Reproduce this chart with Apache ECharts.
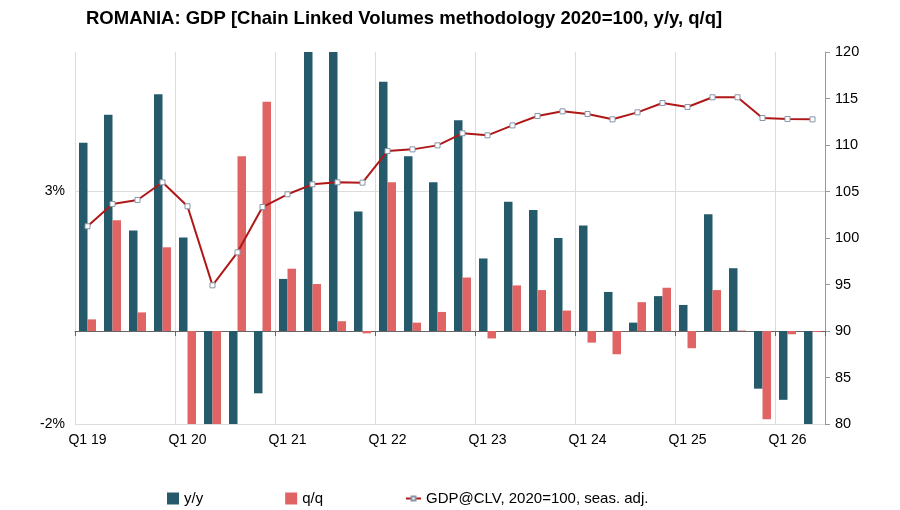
<!DOCTYPE html>
<html>
<head>
<meta charset="utf-8">
<script src="https://cdn.jsdelivr.net/npm/echarts@6/dist/echarts.min.js"></script>
<style>html,body{margin:0;padding:0;background:#fff}#c{width:900px;height:510px}</style>
</head>
<body>
<div id="c"></div>
<script>
const categories = [
  'Q1 19','Q2 19','Q3 19','Q4 19',
  'Q1 20','Q2 20','Q3 20','Q4 20',
  'Q1 21','Q2 21','Q3 21','Q4 21',
  'Q1 22','Q2 22','Q3 22','Q4 22',
  'Q1 23','Q2 23','Q3 23','Q4 23',
  'Q1 24','Q2 24','Q3 24','Q4 24',
  'Q1 25','Q2 25','Q3 25','Q4 25',
  'Q1 26','Q2 26'
];
const yoy = [
  4.05, 4.65, 2.16, 5.09,
  2.01, -10.2, -5.6, -1.34,
  1.12, 13.9, 7.9, 2.57,
  5.36, 3.76, 3.20, 4.53,
  1.56, 2.78, 2.60, 2.00,
  2.27, 0.84, 0.18, 0.75,
  0.56, 2.51, 1.35, -1.24,
  -1.48, -2.1
];
const qoq = [
  0.25, 2.38, 0.40, 1.80,
  -2.5, -10.0, 3.76, 4.93,
  1.34, 1.01, 0.21, -0.05,
  3.20, 0.18, 0.41, 1.15,
  -0.16, 0.98, 0.88, 0.44,
  -0.25, -0.50, 0.62, 0.93,
  -0.37, 0.88, 0.01, -1.90,
  -0.07, -0.02
];
const gdpClv = [
  101.26, 103.66, 104.09, 105.99,
  103.41, 94.91, 98.46, 103.33,
  104.70, 105.77, 105.99, 105.95,
  109.35, 109.53, 109.96, 111.26,
  111.04, 112.11, 113.12, 113.62,
  113.33, 112.76, 113.51, 114.52,
  114.09, 115.13, 115.13, 112.90,
  112.80, 112.76
];
const leftTicks = { min: -2, max: 6, interval: 5 };
const rightTicks = { min: 80, max: 120, interval: 5 };

const chart = echarts.init(document.getElementById('c'), null, { renderer: 'canvas' });
const font = 'Liberation Sans, Arial, sans-serif';
const lineName = 'GDP@CLV, 2020=100, seas. adj.';
chart.setOption({
  animation: false,
  textStyle: { fontFamily: font },
  title: {
    text: 'ROMANIA: GDP [Chain Linked Volumes methodology 2020=100, y/y, q/q]',
    left: 81, top: 4,
    textStyle: { fontFamily: font, fontSize: 18.5, fontWeight: 'bold', color: '#000' }
  },
  legend: [
    {
      left: 162, top: 486, itemGap: 82,
      itemWidth: 12, itemHeight: 12,
      textStyle: { fontFamily: font, fontSize: 15, color: '#000' },
      data: [ { name: 'y/y', icon: 'rect' }, { name: 'q/q', icon: 'rect' } ]
    },
    {
      left: 400, top: 486,
      itemWidth: 15, itemHeight: 5,
      textStyle: { fontFamily: font, fontSize: 15, color: '#000' },
      data: [ { name: lineName } ]
    }
  ],
  grid: { left: 75, right: 75, top: 52, bottom: 86, containLabel: false },
  xAxis: {
    type: 'category', data: categories,
    axisLine: { onZero: true, lineStyle: { color: '#666', width: 1 } },
    axisTick: { show: true, interval: 3, length: 5, lineStyle: { color: '#666' } },
    axisLabel: { interval: 3, color: '#000', fontSize: 14, fontFamily: font, margin: 9 },
    splitLine: { show: true, interval: 3, lineStyle: { color: '#dcdcdc', width: 1 } }
  },
  yAxis: [
    {
      type: 'value', min: leftTicks.min, max: leftTicks.max, interval: leftTicks.interval,
      axisLine: { show: false }, axisTick: { show: false },
      axisLabel: { color: '#000', fontSize: 14, fontFamily: font, showMaxLabel: false,
        formatter: v => v + '%' , margin: 10 },
      splitLine: { show: true, showMaxLine: false, lineStyle: { color: '#dcdcdc', width: 1 } }
    },
    {
      type: 'value', min: rightTicks.min, max: rightTicks.max, interval: rightTicks.interval,
      position: 'right',
      axisLine: { show: true, lineStyle: { color: '#999' } },
      axisTick: { show: true, length: 5, lineStyle: { color: '#999' } },
      axisLabel: { color: '#000', fontSize: 14.5, fontFamily: font, margin: 10 },
      splitLine: { show: false }
    }
  ],
  series: [
    {
      name: 'y/y', type: 'bar', data: yoy, yAxisIndex: 0,
      barWidth: 8.5, barGap: '0%', clip: true,
      itemStyle: { color: '#245a69' }
    },
    {
      name: 'q/q', type: 'bar', data: qoq, yAxisIndex: 0,
      barWidth: 8.5, barGap: '0%', clip: true,
      itemStyle: { color: '#e06464' }
    },
    {
      name: lineName, type: 'line', data: gdpClv, yAxisIndex: 1,
      symbol: 'rect', symbolSize: 5, showAllSymbol: true,
      lineStyle: { color: '#b01818', width: 2 },
      itemStyle: { color: '#ffffff', borderColor: '#8796a8', borderWidth: 1 },
      z: 5
    }
  ]
});
</script>
</body>
</html>
